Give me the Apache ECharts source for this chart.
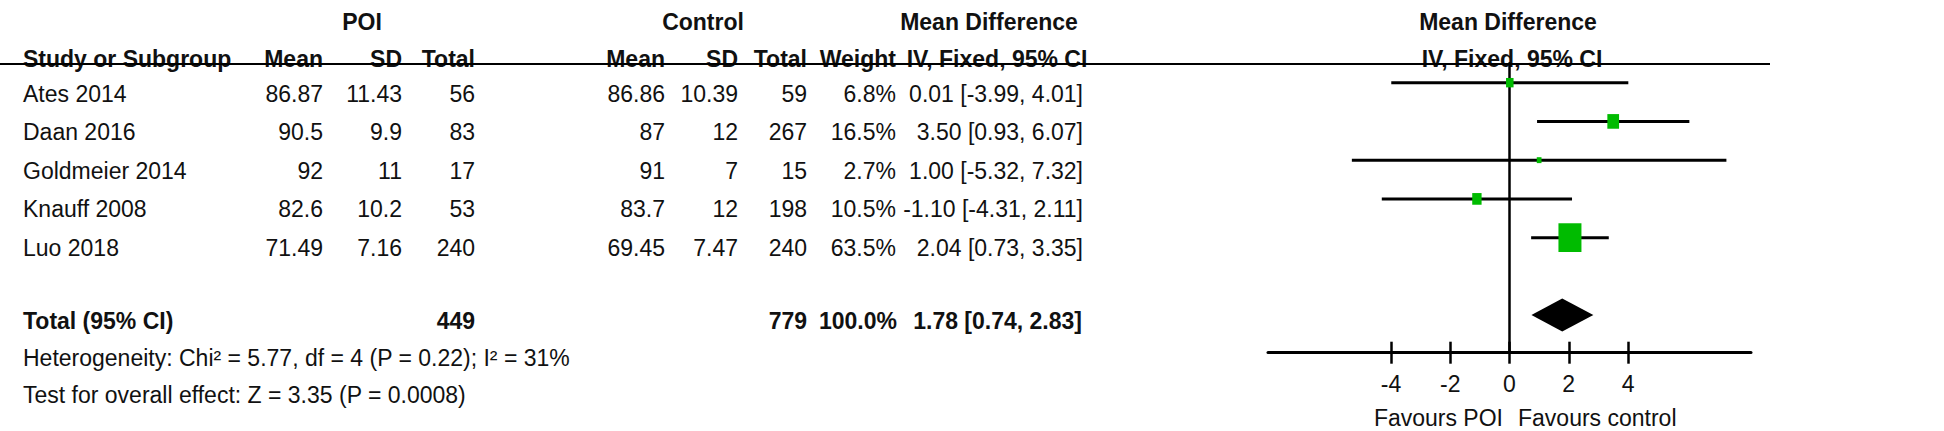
<!DOCTYPE html>
<html>
<head>
<meta charset="utf-8">
<script src="https://cdn.jsdelivr.net/npm/echarts@6/dist/echarts.min.js"></script>
<style>
  html, body { margin: 0; padding: 0; background: #fff; }
  #forest_chart { width: 1944px; height: 431px; }
</style>
</head>
<body>
<div id="forest_chart"></div>
<script>
// 研究数据
const studies = ['Ates 2014', 'Daan 2016', 'Goldmeier 2014', 'Knauff 2008', 'Luo 2018'];
const poiMean = [86.87, 90.5, 92, 82.6, 71.49];
const poiSD = [11.43, 9.9, 11, 10.2, 7.16];
const poiTotal = [56, 83, 17, 53, 240];
const ctrlMean = [86.86, 87, 91, 83.7, 69.45];
const ctrlSD = [10.39, 12, 7, 12, 7.47];
const ctrlTotal = [59, 267, 15, 198, 240];
const weights = [6.8, 16.5, 2.7, 10.5, 63.5];
const md = [0.01, 3.5, 1.0, -1.1, 2.04];
const ciLow = [-3.99, 0.93, -5.32, -4.31, 0.73];
const ciHigh = [4.01, 6.07, 7.32, 2.11, 3.35];

// 合并结果
const totalPoi = 449;
const totalCtrl = 779;
const totalWeight = 100.0;
const pooled = [1.78, 0.74, 2.83];
const heterogeneity = 'Heterogeneity: Chi² = 5.77, df = 4 (P = 0.22); I² = 31%';
const overallEffect = 'Test for overall effect: Z = 3.35 (P = 0.0008)';

const tickValues = [-4, -2, 0, 2, 4];

const FONT = '"Liberation Sans", Arial, sans-serif';
const INK = '#111';

const txt = (text, x, y, align, bold) => ({
  type: 'text',
  x,
  y,
  silent: true,
  style: {
    text: String(text),
    font: (bold ? 'bold ' : '') + '23px ' + FONT,
    fill: INK,
    align,
    verticalAlign: 'middle',
  },
});

const fmtCI = (m, lo, hi) => `${m.toFixed(2)} [${lo.toFixed(2)}, ${hi.toFixed(2)}]`;

const buildTable = () => {
  const els = [];
  // 表头
  els.push(txt('POI', 362, 22, 'center', true));
  els.push(txt('Control', 703, 22, 'center', true));
  els.push(txt('Mean Difference', 989, 22, 'center', true));
  els.push(txt('Mean Difference', 1508, 22, 'center', true));
  els.push(txt('Study or Subgroup', 23, 59, 'left', true));
  els.push(txt('Mean', 323, 59, 'right', true));
  els.push(txt('SD', 402, 59, 'right', true));
  els.push(txt('Total', 475, 59, 'right', true));
  els.push(txt('Mean', 665, 59, 'right', true));
  els.push(txt('SD', 738, 59, 'right', true));
  els.push(txt('Total', 807, 59, 'right', true));
  els.push(txt('Weight', 896, 59, 'right', true));
  els.push(txt('IV, Fixed, 95% CI', 997, 59, 'center', true));
  els.push(txt('IV, Fixed, 95% CI', 1512, 59, 'center', true));
  els.push({
    type: 'line',
    silent: true,
    shape: { x1: 0, y1: 64, x2: 1770, y2: 64 },
    style: { stroke: '#000', lineWidth: 2 },
  });

  // 各研究行
  studies.forEach((name, i) => {
    const y = 94 + i * 38.4;
    els.push(txt(name, 23, y, 'left'));
    els.push(txt(poiMean[i], 323, y, 'right'));
    els.push(txt(poiSD[i], 402, y, 'right'));
    els.push(txt(poiTotal[i], 475, y, 'right'));
    els.push(txt(ctrlMean[i], 665, y, 'right'));
    els.push(txt(ctrlSD[i], 738, y, 'right'));
    els.push(txt(ctrlTotal[i], 807, y, 'right'));
    els.push(txt(weights[i].toFixed(1) + '%', 896, y, 'right'));
    els.push(txt(fmtCI(md[i], ciLow[i], ciHigh[i]), 1083, y, 'right'));
  });

  // 合并行
  els.push(txt('Total (95% CI)', 23, 321, 'left', true));
  els.push(txt(totalPoi, 475, 321, 'right', true));
  els.push(txt(totalCtrl, 807, 321, 'right', true));
  els.push(txt(totalWeight.toFixed(1) + '%', 897, 321, 'right', true));
  els.push(txt(fmtCI(pooled[0], pooled[1], pooled[2]), 1082, 321, 'right', true));
  els.push(txt(heterogeneity, 23, 358, 'left'));
  els.push(txt(overallEffect, 23, 395, 'left'));

  // 坐标轴说明
  els.push(txt('Favours POI', 1503, 418, 'right'));
  els.push(txt('Favours control', 1518, 418, 'left'));
  return els;
};

const getForestChart = () => {
  const chartDom = document.getElementById('forest_chart');
  const myChart = echarts.init(chartDom, null, { renderer: 'svg' });
  const maxWeight = Math.max(...weights);

  const studyData = studies.map((_, i) => [md[i], i, ciLow[i], ciHigh[i], weights[i]]);

  const option = {
    animation: false,
    backgroundColor: '#fff',
    grid: {
      left: 1268,
      right: 193,
      top: 63.3,
      bottom: 78.3,
    },
    xAxis: [
      {
        type: 'value',
        min: -8.15,
        max: 8.15,
        axisLine: { show: true, onZero: false, lineStyle: { color: '#000', width: 3 } },
        axisTick: { show: true, length: 11, customValues: tickValues, lineStyle: { color: '#000', width: 2.5 } },
        axisLabel: { customValues: tickValues, margin: 20, color: INK, fontSize: 23, fontFamily: FONT },
        splitLine: { show: false },
      },
      {
        type: 'value',
        position: 'bottom',
        min: -8.15,
        max: 8.15,
        axisLine: { show: false, onZero: false },
        axisTick: { show: true, inside: true, length: 11, customValues: tickValues, lineStyle: { color: '#000', width: 2.5 } },
        axisLabel: { show: false },
        splitLine: { show: false },
      },
    ],
    yAxis: {
      type: 'value',
      inverse: true,
      min: -0.5,
      max: 6.97,
      axisLine: { show: true, onZero: true, lineStyle: { color: '#000', width: 2.5 } },
      axisTick: { show: false },
      axisLabel: { show: false },
      splitLine: { show: false },
    },
    graphic: buildTable(),
    series: [
      {
        type: 'custom',
        name: 'studies',
        xAxisIndex: 0,
        data: studyData,
        renderItem: (params, api) => {
          const y = api.value(1);
          const lo = api.coord([api.value(2), y]);
          const hi = api.coord([api.value(3), y]);
          const c = api.coord([api.value(0), y]);
          const w = 23 * Math.sqrt(api.value(4) / maxWeight);
          const h = w * 1.25;
          return {
            type: 'group',
            children: [
              {
                type: 'line',
                shape: { x1: lo[0], y1: lo[1], x2: hi[0], y2: hi[1] },
                style: { stroke: '#000', lineWidth: 3 },
              },
              {
                type: 'rect',
                shape: { x: c[0] - w / 2, y: c[1] - h / 2, width: w, height: h },
                style: { fill: '#00bb00' },
              },
            ],
          };
        },
      },
      {
        type: 'custom',
        name: 'pooled',
        xAxisIndex: 0,
        data: [[pooled[0], 6, pooled[1], pooled[2]]],
        renderItem: (params, api) => {
          const y = api.value(1);
          const c = api.coord([api.value(0), y]);
          const lo = api.coord([api.value(2), y]);
          const hi = api.coord([api.value(3), y]);
          return {
            type: 'polygon',
            shape: { points: [[lo[0], c[1]], [c[0], c[1] - 16.5], [hi[0], c[1]], [c[0], c[1] + 16.5]] },
            style: { fill: '#000' },
          };
        },
      },
    ],
  };

  option && myChart.setOption(option);
};

getForestChart();
</script>
</body>
</html>
